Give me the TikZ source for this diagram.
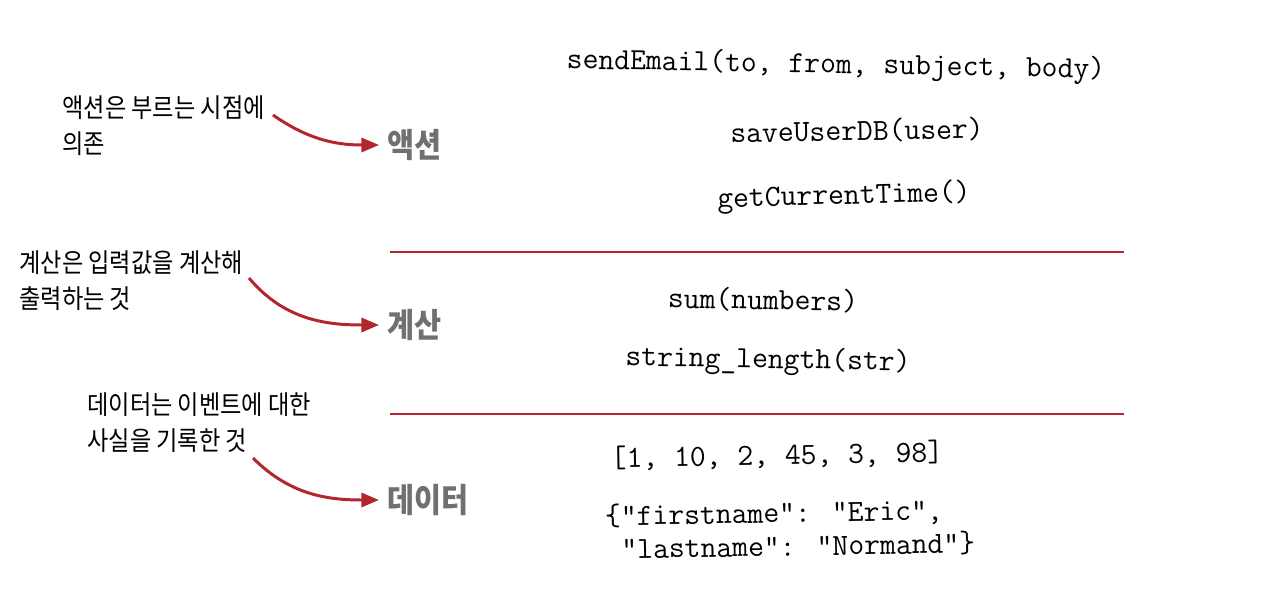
\documentclass[tikz,border=0pt]{standalone}
\usepackage{fontspec}
\newfontfamily\kofont[FakeStretch=0.88]{Noto Sans CJK KR}
\usetikzlibrary{arrows.meta}
\definecolor{notered}{RGB}{179,38,46}
\definecolor{labelgray}{RGB}{112,112,112}
\tikzset{
  code/.style={font=\fontsize{17.5}{19}\selectfont\ttfamily, inner sep=0pt},
  kind/.style={font=\kofont\bfseries\fontsize{19}{22}\selectfont, text=labelgray, anchor=west, inner sep=4.5pt},
  note/.style={font=\kofont\fontsize{15}{20.5}\selectfont, align=left, anchor=north west, inner sep=0pt},
  pointer/.style={-{Triangle[length=10pt,width=8pt]}, draw=notered, line width=1.7pt},
  divider/.style={draw=notered, line width=1.4pt}
}

\begin{document}
\begin{tikzpicture}[x=0.02cm,y=0.02cm]
\useasboundingbox (0,0) rectangle (1278,-598);

% code examples
\node[code, rotate=-1](sendEmail) at (836,-66){sendEmail(to, from, subject, body)};
\node[code, rotate=1](saveUser) at (857,-131){saveUserDB(user)};
\node[code, rotate=1.5](currentTime) at (844,-197){getCurrentTime()};
\node[code, rotate=-1](sumNumbers) at (763,-300){sum(numbers)};
\node[code, rotate=-1](stringLength) at (768,-361){string\_length(str)};
\node[code, rotate=1](numberList) at (777,-456){[1, 10, 2, 45, 3, 98]};
\node[code, rotate=1, align=left, anchor=west](person) at (605,-533){\{"firstname": "Eric",\\\phantom{\{}"lastname": "Normand"\}};

% kinds
\node[kind](action) at (379,-145){액션};
\node[kind](calc) at (379,-325){계산};
\node[kind](data) at (379,-500){데이터};

% notes
\node[note](actionNote) at (62,-95){액션은 부르는 시점에\\의존};
\node[note](calcNote) at (19,-250){계산은 입력값을 계산해\\출력하는 것};
\node[note](dataNote) at (87,-392){데이터는 이벤트에 대한\\사실을 기록한 것};
\coordinate (actionFrom) at (273,-115);
\coordinate (calcFrom) at (249,-278);
\coordinate (dataFrom) at (253,-458);

\path
(actionFrom) edge[pointer, out=-35, in=180] (action)
(calcFrom) edge[pointer, out=-50, in=180] (calc)
(dataFrom) edge[pointer, out=-45, in=180] (data);

\draw[divider] (390,-252) -- (1124,-252);
\draw[divider] (390,-414) -- (1124,-414);
\end{tikzpicture}
\end{document}
